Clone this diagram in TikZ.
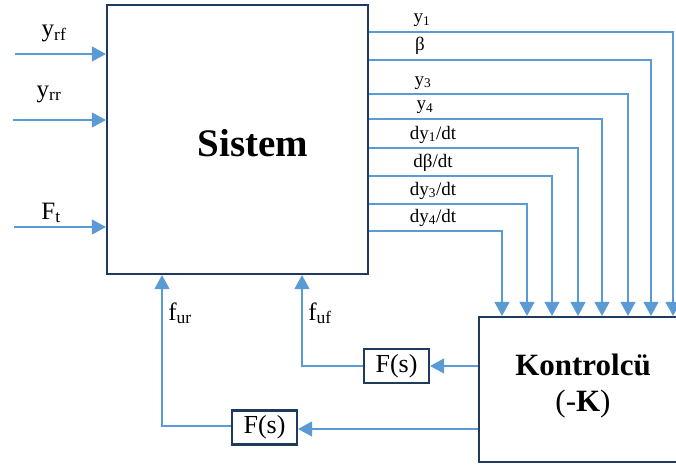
\documentclass[tikz,border=0pt]{standalone}
\usepackage{fontspec}
\setmainfont{Liberation Serif}
\usetikzlibrary{arrows.meta}
\definecolor{sig}{HTML}{5B9BD5}
\definecolor{frame}{HTML}{1F3A5C}
\tikzset{
  blockbox/.style={draw=frame, line width=2.2pt, fill=white, inner sep=0pt},
  sigline/.style={draw=sig, line width=1.2pt},
  sigarrow/.style={sigline, -{Triangle[width=15pt,length=14pt]}},
  lab/.style={anchor=base, inner sep=0pt, font=\fontsize{19}{19}\selectfont},
  inlab/.style={anchor=base, inner sep=0pt, font=\fontsize{25}{25}\selectfont},
}
\begin{document}
\begin{tikzpicture}[x=1pt, y=-1pt]
\clip (0,0) rectangle (676,468);

% main blocks
\node[blockbox, minimum width=261pt, minimum height=269pt] (sys) at (237.5,139.5) {};
\node[font=\fontsize{39}{39}\selectfont\bfseries] (systxt) at (253,143) {Sistem};
\node[blockbox, minimum width=210pt, minimum height=145pt] (ctl) at (584,389.5) {};
\node[align=center, font=\fontsize{31}{36}\selectfont] (ctltxt) at (583,386)
  {\textbf{Kontrolcü}\\(-\textbf{K})};

% filters
\node[blockbox, minimum width=65pt, minimum height=34pt, font=\fontsize{26}{26}\selectfont] (fa) at (396.5,366) {F(s)};
\node[blockbox, minimum width=65pt, minimum height=34pt, font=\fontsize{26}{26}\selectfont] (fb) at (264.5,427.5) {F(s)};

% inputs
\coordinate (i1) at (15,54);
\coordinate (i2) at (13,120);
\coordinate (i3) at (14,227);
\draw[sigarrow] (i1) -- (sys.west |- i1);
\draw[sigarrow] (i2) -- (sys.west |- i2);
\draw[sigarrow] (i3) -- (sys.west |- i3);
\node[inlab] (lrf) at (54,37) {y\textsubscript{rf}};
\node[inlab] (lrr) at (49,97) {y\textsubscript{rr}};
\node[inlab] (lft) at (51,219) {F\textsubscript{t}};

% measured outputs fed to the controller
\foreach \yy/\xx/\lx/\txt [count=\i] in {
   32/673/422/{y\textsubscript{1}},
   60/651/420/{β},
   94/628/423/{y\textsubscript{3}},
  119/602/425/{y\textsubscript{4}},
  148/578/433/{dy\textsubscript{1}/dt},
  176/552/433/{dβ/dt},
  204/527/433/{dy\textsubscript{3}/dt},
  231/502/433/{dy\textsubscript{4}/dt}} {
  \coordinate (o\i) at (sys.east |- 0,\yy);
  \coordinate (c\i) at (ctl.north -| \xx,0);
  \draw[sigarrow] (o\i) -| (c\i);
  \node[lab] (ol\i) at (\lx,\yy-9) {\txt};
}

% controller outputs through the filters
\coordinate (k1) at (ctl.west |- 0,366);
\coordinate (k2) at (ctl.west |- 0,429);
\draw[sigarrow] (k1) -- (fa.east |- k1);
\draw[sigarrow] (k2) -- (fb.east |- k2);
\coordinate (s1) at (sys.south -| 302,0);
\coordinate (s2) at (sys.south -| 162,0);
\draw[sigarrow] (fa.west) -| (s1);
\draw[sigarrow] (fb.west |- 0,426) -| (s2);
\node[inlab] (luf) at (320,320) {f\textsubscript{uf}};
\node[inlab] (lur) at (180,320) {f\textsubscript{ur}};
\end{tikzpicture}
\end{document}
